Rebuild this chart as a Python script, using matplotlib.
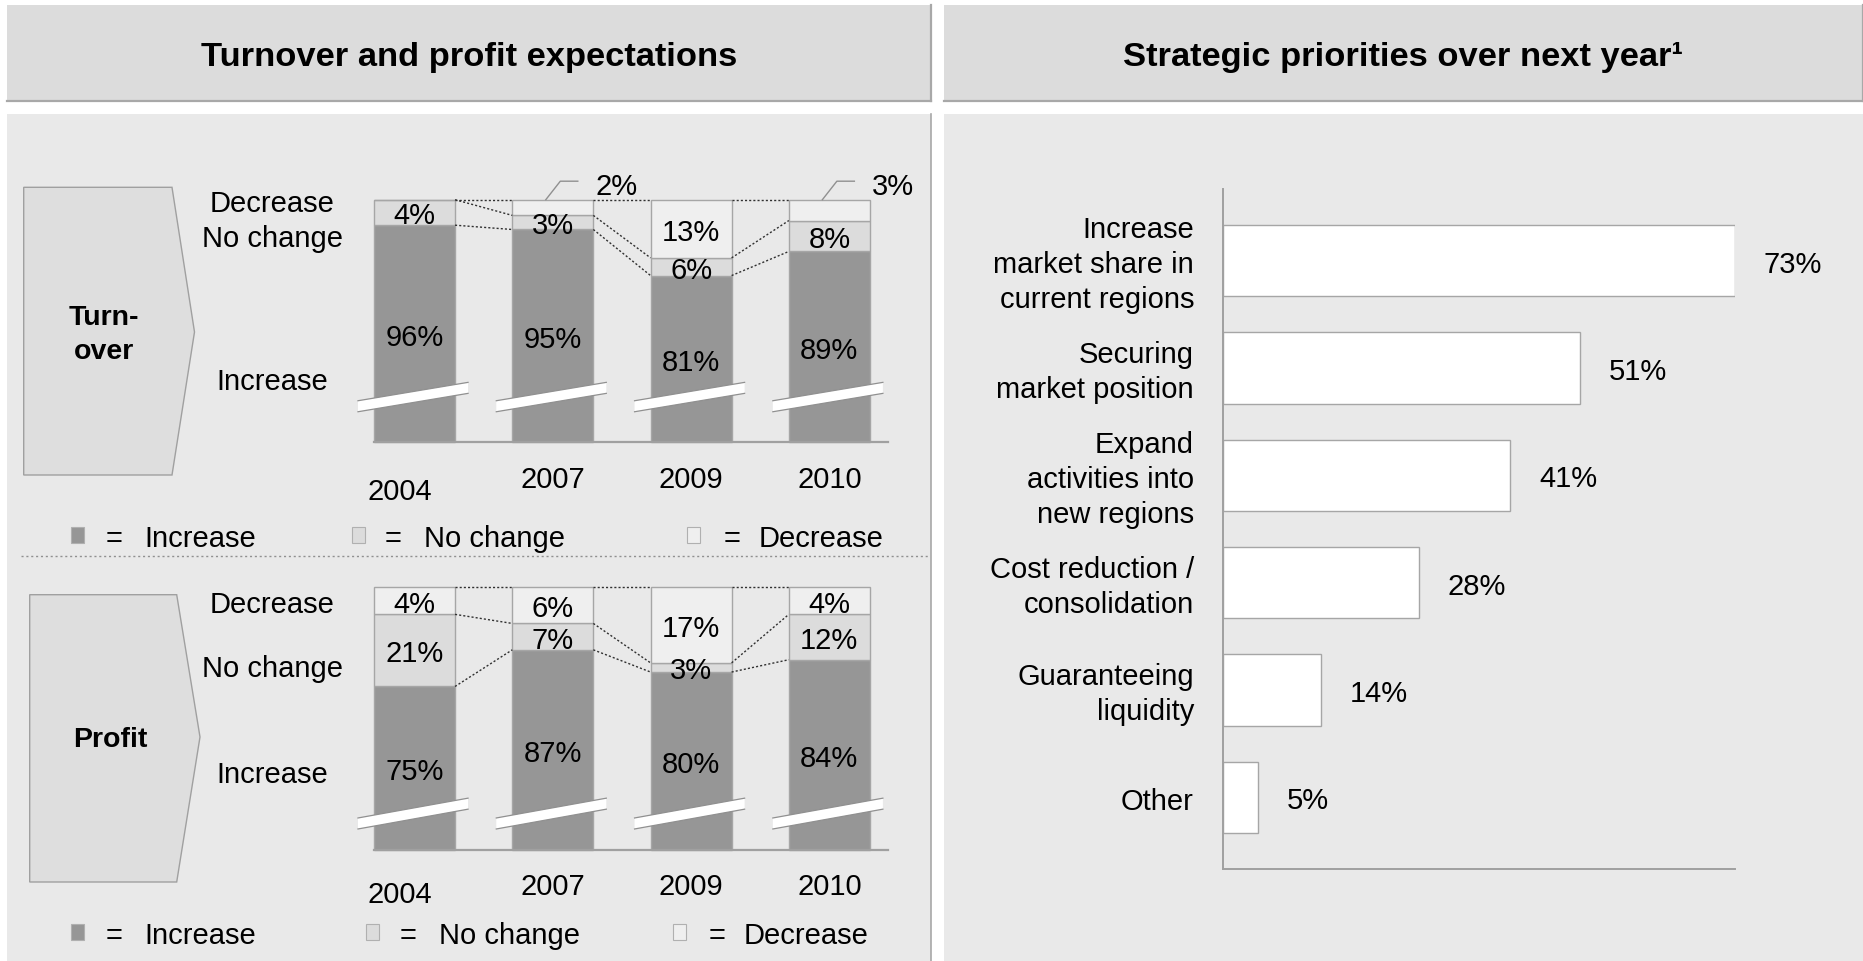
import numpy as np
import matplotlib
matplotlib.use("Agg")
import matplotlib.pyplot as plt
from matplotlib.patches import Rectangle, Polygon
from matplotlib.ticker import NullLocator

plt.rcParams['font.family'] = ['Liberation Sans', 'DejaVu Sans']

# ---------------- data ----------------
years = ['2004', '2007', '2009', '2010']
turnover_increase = [96, 95, 81, 89]
turnover_nochange = [4, 3, 6, 8]
turnover_decrease = [0, 2, 13, 3]
profit_increase = [75, 87, 80, 84]
profit_nochange = [21, 7, 3, 12]
profit_decrease = [4, 6, 17, 4]

priorities = ['Increase\nmarket share in\ncurrent regions',
              'Securing\nmarket position',
              'Expand\nactivities into\nnew regions',
              'Cost reduction /\nconsolidation',
              'Guaranteeing\nliquidity',
              'Other']
priority_values = [73, 51, 41, 28, 14, 5]

left_title = 'Turnover and profit expectations'
right_title = 'Strategic priorities over next year\u00b9'
legend_labels = ['Increase', 'No change', 'Decrease']

# ---------------- style ----------------
W, H, DPI = 1863, 962, 100
HEADER = '#dcdcdc'
BODY = '#e9e9e9'
SHADOW = '#a8a8a8'
INC = '#969696'
NOC = '#dcdcdc'
DEC = '#efefef'
EDGE = '#a6a6a6'
FS = 21

fig = plt.figure(figsize=(W / DPI, H / DPI), dpi=DPI, facecolor='white')


def rect(x0, y0, x1, y1):
    return [x0 / W, 1 - y1 / H, (x1 - x0) / W, (y1 - y0) / H]


bg = fig.add_axes([0, 0, 1, 1], zorder=0, label='bg')
bg.set_xlim(0, W); bg.set_ylim(H, 0); bg.axis('off')
fg = fig.add_axes([0, 0, 1, 1], zorder=10, label='fg')
fg.set_xlim(0, W); fg.set_ylim(H, 0); fg.axis('off'); fg.patch.set_alpha(0)

# panels
for x0, x1 in [(7, 931), (944, 1863)]:
    bg.add_patch(Rectangle((x0, 6), x1 - x0, 95.7, fc=HEADER, ec='none'))
    bg.plot([x0, x1], [101.7, 101.7], color=SHADOW, lw=1.6)
    bg.plot([x1, x1], [6, 101.7], color=SHADOW, lw=1.6)
    bg.add_patch(Rectangle((x0, 115), x1 - x0, H - 115, fc=BODY, ec='none'))
bg.plot([931, 931], [115, H], color=SHADOW, lw=1.2)

bg.text(469, 65.7, left_title, ha='center', va='baseline', fontsize=24.8, fontweight='bold')
bg.text(1403, 65.7, right_title, ha='center', va='baseline', fontsize=24.8, fontweight='bold')

# ---------------- left stacked bars ----------------
P = 0.7


def fwd(v):
    d = 100 - np.asarray(v, dtype=float)
    return -np.sign(d) * np.abs(d) ** P


def inv(u):
    u = np.asarray(u, dtype=float)
    return 100 - np.sign(-u) * np.abs(u) ** (1 / P)


BW = 0.586


def to_px(ax, x, y):
    dx, dy = ax.transData.transform((x, y))
    return dx, H - dy


def stacked(top, bottom, inc, noc, dec, arrow, arrow_text, row_labels, year_base,
            year_nudge, break_up, break_slope):
    inc = np.array(inc); noc = np.array(noc); dec = np.array(dec)
    ax = fig.add_axes(rect(374, top, 888, bottom), zorder=2)
    ax.patch.set_alpha(0)
    ax.set_yscale('function', functions=(fwd, inv))
    ax.set_ylim(0, 100)
    ax.set_xlim(-BW / 2, 3.424)
    x = np.arange(len(inc))
    ax.bar(x, inc, width=BW, color=INC, ec=EDGE, lw=1, clip_on=False)
    ax.bar(x, noc, bottom=inc, width=BW, color=NOC, ec=EDGE, lw=1, clip_on=False)
    ax.bar(x, dec, bottom=inc + noc, width=BW, color=DEC, ec=EDGE, lw=1, clip_on=False)
    for s in ['top', 'left', 'right']:
        ax.spines[s].set_visible(False)
    ax.spines['bottom'].set_color('#a0a0a0')
    ax.spines['bottom'].set_linewidth(1.6)
    ax.xaxis.set_major_locator(NullLocator()); ax.xaxis.set_minor_locator(NullLocator())
    ax.yaxis.set_major_locator(NullLocator()); ax.yaxis.set_minor_locator(NullLocator())

    # dotted connectors
    levels = [np.full(len(inc), 100.0), inc + noc, inc]
    for i in range(len(inc) - 1):
        for lv in levels:
            ax.plot([i + BW / 2, i + 1 - BW / 2], [lv[i], lv[i + 1]], ls=(0, (1.5, 1.5)),
                    color='#303030', lw=1, clip_on=False)

    # labels
    for i in range(len(inc)):
        mid_inc = inv((fwd(0) + fwd(inc[i])) / 2)
        ax.text(i, mid_inc, f'{inc[i]}%', ha='center', va='center_baseline', fontsize=FS)
        mid_noc = inv((fwd(inc[i]) + fwd(inc[i] + noc[i])) / 2)
        ax.text(i, mid_noc, f'{noc[i]}%', ha='center', va='center_baseline', fontsize=FS)
        if dec[i] >= 4:
            mid_dec = inv((fwd(inc[i] + noc[i]) + fwd(100)) / 2)
            ax.text(i, mid_dec, f'{dec[i]}%', ha='center', va='center_baseline', fontsize=FS)
        elif dec[i] > 0:
            cx, cy = to_px(ax, i, 100)
            fg.plot([cx - 7, cx + 7.5, cx + 25], [cy, cy - 18.5, cy - 18.5], color='#909090', lw=1)
            fg.text(cx + 43, cy - 16.5, f'{dec[i]}%', ha='left', va='center_baseline', fontsize=FS)

    # break marks and years
    for i in range(len(inc)):
        cx, by = to_px(ax, i, 0)
        lx, rx = to_px(ax, i - BW / 2, 0)[0], to_px(ax, i + BW / 2, 0)[0]
        xl, xr = lx - 16, rx + 13
        yc = by - break_up
        yl = yc + break_slope * (xl - cx)
        yr = yc + break_slope * (xr - cx)
        t = 5.5
        fg.add_patch(Polygon([(xl, yl - t), (xr, yr - t), (xr, yr + t), (xl, yl + t)],
                             closed=True, fc='white', ec='none'))
        fg.plot([xl, xr], [yl - t, yr - t], color='#909090', lw=0.9)
        fg.plot([xl, xr], [yl + t, yr + t], color='#909090', lw=0.9)
        nx, ny = year_nudge[i]
        bg.text(cx + nx, by + year_base + ny, years[i], ha='center', va='baseline', fontsize=FS)

    # arrow shape
    bg.add_patch(Polygon(arrow, closed=True, fc='#dedede', ec='#a0a0a0', lw=1))
    ax_c = (arrow[0][0] + arrow[2][0]) / 2 - 5
    bg.text(ax_c, arrow[2][1] + 2, arrow_text, ha='center', va='center', fontsize=20.5,
            fontweight='bold', linespacing=1.4)
    for (lbl, yb) in row_labels:
        bg.text(272, yb, lbl, ha='center', va='baseline', fontsize=FS)
    return ax


stacked(200.7, 443.3, turnover_increase, turnover_nochange, turnover_decrease,
        [(23.7, 188.3), (172, 188.3), (194.5, 333), (172, 476), (23.7, 476)],
        'Turn-\nover',
        [('Decrease', 211.7), ('No change', 247.3), ('Increase', 390)],
        45, [(-15, 11.7), (0, 0), (0, 0), (0, 0)], 45.5, -0.167)
stacked(587.7, 851, profit_increase, profit_nochange, profit_decrease,
        [(29.7, 595.7), (176.7, 595.7), (200, 738), (176.7, 883), (29.7, 883)],
        'Profit',
        [('Decrease', 613.3), ('No change', 677), ('Increase', 782.7)],
        44, [(-15, 8.3), (0, 0), (0, 0), (0, 0)], 36.7, -0.18)


# legends
def legend_row(yc, items):
    colors = [INC, NOC, DEC]
    for (sx, ex, tx), col, lbl in zip(items, colors, legend_labels):
        bg.add_patch(Rectangle((sx, yc - 8), 13, 16, fc=col, ec='#b0b0b0', lw=0.8))
        bg.text(ex, yc, '=', ha='center', va='center_baseline', fontsize=FS)
        bg.text(tx, yc, lbl, ha='left', va='center_baseline', fontsize=FS)


legend_row(536, [(71, 113.6, 144), (351.7, 393.5, 424), (686.8, 731.6, 759)])
legend_row(933, [(71, 113.6, 144), (366, 408, 439), (673, 717, 744)])
bg.plot([20.8, 930], [557.3, 557.3], ls=(0, (1.5, 2)), color='#909090', lw=1)

# ---------------- right horizontal bars ----------------
axr = fig.add_axes(rect(1222.5, 190, 1734.5, 870), zorder=2)
axr.patch.set_alpha(0)
yy = np.arange(len(priority_values))
axr.barh(yy, priority_values, height=0.667, color='white', ec=EDGE, lw=1)
axr.set_xlim(0, 73)
axr.set_ylim(len(priority_values) - 0.333, -0.667)
for s in ['top', 'right']:
    axr.spines[s].set_visible(False)
for s in ['left', 'bottom']:
    axr.spines[s].set_color('#a0a0a0')
    axr.spines[s].set_linewidth(1.4)
axr.set_xticks([])
axr.set_yticks([])
for i, lbl in enumerate(priorities):
    axr.annotate(lbl, xy=(0, i), xytext=(-28.5, -3.5), textcoords='offset pixels',
                 ha='right', va='center', multialignment='right', fontsize=FS,
                 linespacing=1.32, annotation_clip=False)
for i, v in enumerate(priority_values):
    axr.annotate(f'{v}%', xy=(v, i), xytext=(29, 0), textcoords='offset pixels',
                 ha='left', va='center_baseline', fontsize=FS)

fig.savefig('out.png', dpi=DPI, facecolor='white')
